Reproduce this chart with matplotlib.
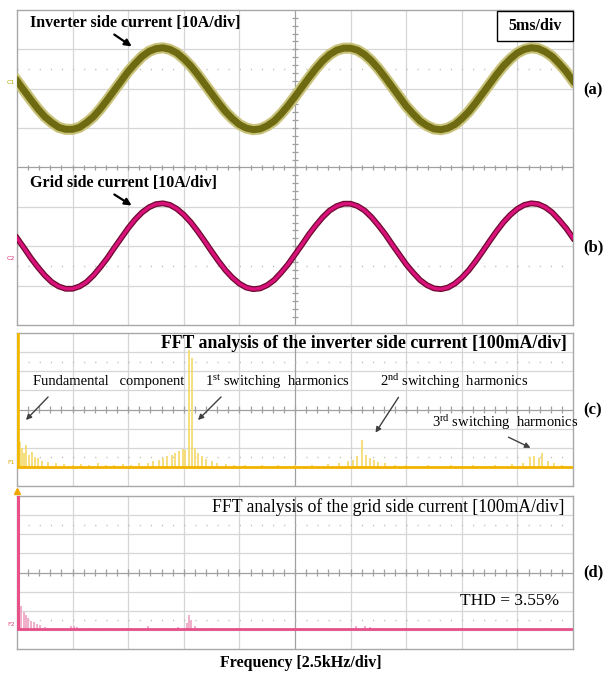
import matplotlib.pyplot as plt
from matplotlib.patches import FancyArrowPatch, Rectangle

plt.rcParams['font.family'] = ['Liberation Serif', 'DejaVu Serif']
plt.rcParams['mathtext.fontset'] = 'custom'
plt.rcParams['mathtext.rm'] = 'Liberation Serif'
plt.rcParams['mathtext.it'] = 'Liberation Serif:italic'
plt.rcParams['mathtext.bf'] = 'Liberation Serif:bold'

W, H = 605, 675

# time axis in scope divisions (5 ms/div), sampled every 1/8 div
t_div = [0.0, 0.125, 0.25, 0.375, 0.5, 0.625, 0.75, 0.875, 1.0, 1.125,
         1.25, 1.375, 1.5, 1.625, 1.75, 1.875, 2.0, 2.125, 2.25, 2.375,
         2.5, 2.625, 2.75, 2.875, 3.0, 3.125, 3.25, 3.375, 3.5, 3.625,
         3.75, 3.875, 4.0, 4.125, 4.25, 4.375, 4.5, 4.625, 4.75, 4.875,
         5.0, 5.125, 5.25, 5.375, 5.5, 5.625, 5.75, 5.875, 6.0, 6.125,
         6.25, 6.375, 6.5, 6.625, 6.75, 6.875, 7.0, 7.125, 7.25, 7.375,
         7.5, 7.625, 7.75, 7.875, 8.0, 8.125, 8.25, 8.375, 8.5, 8.625,
         8.75, 8.875, 9.0, 9.125, 9.25, 9.375, 9.5, 9.625, 9.75, 9.875, 10.0]

# inverter side current, screen position in div (zero at 6 div)
inv_current = [6.20, 5.96, 5.72, 5.49, 5.29, 5.14, 5.02, 4.97, 4.97, 5.02,
               5.14, 5.29, 5.49, 5.72, 5.96, 6.20, 6.44, 6.64, 6.82, 6.95,
               7.02, 7.04, 7.00, 6.91, 6.76, 6.58, 6.36, 6.12, 5.88, 5.64,
               5.42, 5.24, 5.09, 5.00, 4.96, 4.98, 5.06, 5.18, 5.36, 5.57,
               5.80, 6.04, 6.28, 6.51, 6.71, 6.87, 6.98, 7.03, 7.03, 6.98,
               6.87, 6.71, 6.51, 6.28, 6.04, 5.80, 5.56, 5.36, 5.18, 5.06,
               4.98, 4.96, 5.00, 5.09, 5.24, 5.42, 5.64, 5.88, 6.12, 6.36,
               6.58, 6.76, 6.91, 7.00, 7.04, 7.02, 6.94, 6.82, 6.64, 6.44, 6.20]

# grid side current, screen position in div (zero at 2 div)
grid_current = [2.21, 1.96, 1.70, 1.47, 1.26, 1.09, 0.98, 0.92, 0.92, 0.98,
                1.09, 1.26, 1.47, 1.70, 1.96, 2.21, 2.46, 2.68, 2.86, 2.99,
                3.07, 3.09, 3.05, 2.95, 2.80, 2.61, 2.38, 2.13, 1.87, 1.62,
                1.39, 1.20, 1.05, 0.95, 0.91, 0.93, 1.01, 1.14, 1.33, 1.54,
                1.79, 2.04, 2.30, 2.53, 2.74, 2.91, 3.02, 3.08, 3.08, 3.02,
                2.91, 2.74, 2.53, 2.30, 2.04, 1.79, 1.54, 1.33, 1.14, 1.01,
                0.93, 0.91, 0.95, 1.05, 1.20, 1.39, 1.62, 1.87, 2.13, 2.38,
                2.61, 2.80, 2.95, 3.05, 3.09, 3.07, 2.99, 2.86, 2.67, 2.46, 2.21]

# FFT of inverter side current: frequency (div, 2.5 kHz/div) and level (div)
fft_inv_freq = [0.05, 0.09, 0.13, 0.17, 0.22, 0.27, 0.32, 0.38, 0.45, 0.55,
                0.70, 0.85, 1.00, 1.15, 1.30, 1.45, 1.60, 1.75, 1.90, 2.05,
                2.20, 2.35, 2.45, 2.55, 2.62, 2.70, 2.78, 2.85, 2.92, 2.98,
                3.03, 3.09, 3.15, 3.20, 3.26, 3.32, 3.40, 3.50, 3.60, 3.75,
                3.90, 4.10, 4.40, 4.70, 5.00, 5.30, 5.60, 5.80, 5.95, 6.05,
                6.12, 6.21, 6.28, 6.35, 6.42, 6.50, 6.62, 6.80, 7.00, 7.40,
                7.80, 8.20, 8.60, 8.90, 9.10, 9.22, 9.30, 9.38, 9.45, 9.55,
                9.65, 9.80]
fft_inv_level = [2.30, 2.00, 1.75, 2.15, 1.60, 1.80, 1.50, 1.45, 1.30, 1.25,
                 1.20, 1.15, 1.12, 1.15, 1.10, 1.18, 1.12, 1.10, 1.14, 1.12,
                 1.18, 1.22, 1.30, 1.35, 1.45, 1.55, 1.60, 1.70, 1.85, 1.95,
                 1.90, 7.10, 6.70, 2.00, 1.75, 1.55, 1.40, 1.30, 1.20, 1.15,
                 1.12, 1.10, 1.10, 1.12, 1.10, 1.12, 1.15, 1.20, 1.30, 1.35,
                 1.55, 2.40, 1.60, 1.45, 1.35, 1.25, 1.20, 1.12, 1.10, 1.10,
                 1.10, 1.12, 1.12, 1.15, 1.20, 1.50, 1.55, 1.45, 1.70, 1.30,
                 1.20, 1.12]
fft_inv_base = 1.0

# FFT of grid side current
fft_grid_freq = [0.04, 0.08, 0.12, 0.16, 0.20, 0.25, 0.30, 0.36, 0.42, 0.50,
                 0.65, 0.80, 0.97, 1.02, 1.08, 1.30, 1.60, 2.00, 2.36, 2.60,
                 2.90, 3.05, 3.09, 3.13, 3.20, 3.50, 4.00, 4.50, 5.00, 5.50,
                 6.10, 6.25, 6.35, 6.50, 7.00, 8.00, 9.00, 9.50]
fft_grid_level = [2.70, 2.25, 1.95, 1.80, 1.60, 1.45, 1.40, 1.30, 1.25, 1.15,
                  1.10, 1.10, 1.20, 1.18, 1.15, 1.10, 1.08, 1.10, 1.20, 1.12,
                  1.15, 1.35, 1.78, 1.50, 1.20, 1.10, 1.08, 1.08, 1.08, 1.08,
                  1.20, 1.22, 1.15, 1.12, 1.08, 1.08, 1.08, 1.10]
fft_grid_base = 1.04
fund_freq = 0.0
fund_level = 8.3


def fx(x):
    return x / W


def fy(y):
    return 1 - y / H


def screen(ax, px_per_div_y, vticks=True):
    ax.set_xlim(0, 10)
    ax.set_ylim(0, 8)
    ax.set_xticks([])
    ax.set_yticks([])
    for s in ax.spines.values():
        s.set_color('#a8a8a8')
        s.set_linewidth(1.0)
    ax.vlines([1, 2, 3, 4, 6, 7, 8, 9], 0, 8, color='#d6d6d6', lw=0.9, zorder=0)
    ax.hlines([1, 2, 3, 5, 6, 7], 0, 10, color='#d6d6d6', lw=0.9, zorder=0)
    ax.vlines(5, 0, 8, color='#a0a0a0', lw=0.9, zorder=0)
    ax.hlines(4, 0, 10, color='#a0a0a0', lw=0.9, zorder=0)
    # minor ticks on the centre lines
    tx = [k * 0.2 for k in range(1, 50)]
    hy = 3.0 / px_per_div_y
    ax.vlines(tx, 4 - hy, 4 + hy, color='#a0a0a0', lw=0.9, zorder=0)
    if vticks:
        ty = [k * 0.2 for k in range(1, 40)]
        hx = 3.0 / 55.7
        ax.hlines(ty, 5 - hx, 5 + hx, color='#a0a0a0', lw=0.9, zorder=0)
    # dotted reference rows
    ax.hlines([1.5, 6.5], 0, 10, color='#b8b8b8', lw=1.0,
              linestyles=[(0, (0.8, 7.2))], zorder=0)


fig = plt.figure(figsize=(W / 100, H / 100), dpi=100)
fig.patch.set_facecolor('white')

x0, x1 = 17, 573
ax_t = fig.add_axes([fx(x0), fy(325), (x1 - x0) / W, 315 / H])
ax_c = fig.add_axes([fx(x0), fy(486), (x1 - x0) / W, 153 / H])
ax_d = fig.add_axes([fx(x0), fy(649), (x1 - x0) / W, 153 / H])

screen(ax_t, 39.4)
screen(ax_c, 19.1, vticks=False)
screen(ax_d, 19.1, vticks=False)

# time-domain traces
ax_t.plot(t_div, inv_current, color='#c9c27a', lw=8.0, solid_joinstyle='round', zorder=3)
ax_t.plot(t_div, inv_current, color='#6e6a12', lw=5.0, solid_joinstyle='round', zorder=4)
ax_t.plot(t_div, grid_current, color='#6e0a30', lw=4.2, solid_joinstyle='round', zorder=3)
ax_t.plot(t_div, grid_current, color='#d8127a', lw=2.4, solid_joinstyle='round', zorder=4)

# spectra
ax_c.vlines(fft_inv_freq, fft_inv_base, fft_inv_level, color='#f6dc74', lw=1.3, zorder=3)
ax_c.vlines(fund_freq + 0.02, fft_inv_base, fund_level, color='#f2b800', lw=2.6, zorder=4)
ax_c.plot([0, 10], [fft_inv_base, fft_inv_base], color='#f2b400', lw=2.0, zorder=4)

ax_d.vlines(fft_grid_freq, fft_grid_base, fft_grid_level, color='#f0a8c4', lw=1.3, zorder=3)
ax_d.vlines(fund_freq + 0.02, fft_grid_base, fund_level, color='#e8508a', lw=2.2, zorder=4)
ax_d.plot([0, 10], [fft_grid_base, fft_grid_base], color='#e6508a', lw=2.0, zorder=4)
ax_d.plot([0.0], [8.25], marker='^', ms=4, color='#f0a800', clip_on=False, zorder=5)

# channel markers
fig.text(fx(11), fy(82), 'C1', fontsize=4.5, color='#b0a400', ha='center', va='center',
         family='DejaVu Sans')
fig.text(fx(11), fy(258), 'C2', fontsize=4.5, color='#e0307a', ha='center', va='center',
         family='DejaVu Sans')
fig.text(fx(11), fy(463), 'F1', fontsize=4.5, color='#d8a800', ha='center', va='center',
         family='DejaVu Sans')
fig.text(fx(11), fy(625), 'F2', fontsize=4.5, color='#e05080', ha='center', va='center',
         family='DejaVu Sans')

# labels on the time-domain screen
fig.text(fx(30), fy(23), 'Inverter side current [10A/div]', fontsize=11.5,
         fontweight='bold', ha='left', va='center')
fig.text(fx(30), fy(183), 'Grid side current [10A/div]', fontsize=11.5,
         fontweight='bold', ha='left', va='center')
fig.add_artist(Rectangle((fx(497), fy(41)), 76 / W, 30 / H, transform=fig.transFigure,
                         facecolor='white', edgecolor='black', lw=1.0, zorder=5))
fig.text(fx(535), fy(26), '5ms/div', fontsize=11.5, fontweight='bold',
         ha='center', va='center', zorder=6)

for xa, ya, xb, yb in [(112, 33, 134, 48), (112, 193, 134, 207)]:
    fig.add_artist(FancyArrowPatch((fx(xa), fy(ya)), (fx(xb), fy(yb)),
                                   transform=fig.transFigure, arrowstyle='-|>',
                                   mutation_scale=10, lw=1.6, color='black'))

# panel letters
for lab, yl in [('(a)', 90), ('(b)', 247), ('(c)', 410), ('(d)', 572)]:
    fig.text(fx(593), fy(yl), lab, fontsize=12, fontweight='bold',
             ha='center', va='center')

# FFT annotations
fig.text(fx(567), fy(343), 'FFT analysis of the inverter side current [100mA/div]',
         fontsize=12.8, fontweight='bold', ha='right', va='center')
fig.text(fx(33), fy(382), 'Fundamental   component', fontsize=10.5,
         ha='left', va='center')
fig.text(fx(205), fy(382), r'1$^{\mathrm{st}}$ switching  harmonics', fontsize=10.5,
         ha='left', va='center')
fig.text(fx(380), fy(382), r'2$^{\mathrm{nd}}$ switching  harmonics', fontsize=10.5,
         ha='left', va='center')
fig.text(fx(432), fy(423), r'3$^{\mathrm{rd}}$ switching  harmonics', fontsize=10.5,
         ha='left', va='center')

for xa, ya, xb, yb in [(50, 395, 24, 422), (223, 395, 196, 422),
                       (400, 395, 374, 435), (506, 436, 533, 449)]:
    fig.add_artist(FancyArrowPatch((fx(xa), fy(ya)), (fx(xb), fy(yb)),
                                   transform=fig.transFigure, arrowstyle='-|>',
                                   mutation_scale=8, lw=1.0, color='#404040'))

fig.text(fx(564), fy(507), 'FFT analysis of the grid side current [100mA/div]',
         fontsize=12.7, ha='right', va='center')
fig.text(fx(510), fy(601), 'THD = 3.55%', fontsize=12.5,
         ha='center', va='center')
fig.text(fx(301), fy(663), 'Frequency [2.5kHz/div]', fontsize=11.5, fontweight='bold',
         ha='center', va='center')

fig.savefig('out.png', dpi=100)
